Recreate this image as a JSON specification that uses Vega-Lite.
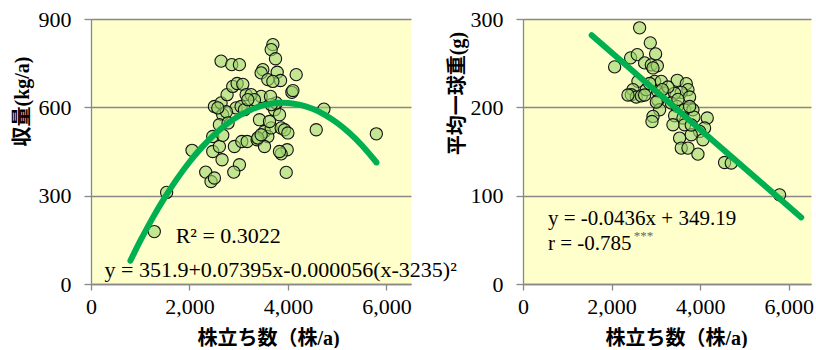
{
  "$schema": "https://vega.github.io/schema/vega-lite/v6.json",
  "autosize": {"type": "pad"},
  "padding": {"left": 12, "top": 8, "right": 0, "bottom": 0},
  "bounds": "flush",
  "spacing": 112,
  "background": "#ffffff",
  "datasets": {
    "yieldData": [
      {"density": 1286, "yield": 178}, {"density": 1536, "yield": 311}, {"density": 2052, "yield": 454},
      {"density": 2330, "yield": 380}, {"density": 2438, "yield": 348}, {"density": 2507, "yield": 360},
      {"density": 2473, "yield": 501}, {"density": 2473, "yield": 450}, {"density": 2608, "yield": 467},
      {"density": 2662, "yield": 422}, {"density": 2507, "yield": 603}, {"density": 2642, "yield": 615},
      {"density": 2676, "yield": 575}, {"density": 2608, "yield": 541}, {"density": 2676, "yield": 505},
      {"density": 2642, "yield": 757}, {"density": 2859, "yield": 745}, {"density": 3015, "yield": 745},
      {"density": 2764, "yield": 643}, {"density": 2879, "yield": 671}, {"density": 2968, "yield": 681},
      {"density": 3083, "yield": 678}, {"density": 3151, "yield": 643}, {"density": 2947, "yield": 598},
      {"density": 3049, "yield": 603}, {"density": 2913, "yield": 467}, {"density": 3015, "yield": 405},
      {"density": 2900, "yield": 380}, {"density": 3063, "yield": 484}, {"density": 3172, "yield": 484},
      {"density": 3374, "yield": 490}, {"density": 3422, "yield": 558}, {"density": 3456, "yield": 637},
      {"density": 3490, "yield": 728}, {"density": 3456, "yield": 717}, {"density": 3592, "yield": 694},
      {"density": 3694, "yield": 813}, {"density": 3660, "yield": 796}, {"density": 3748, "yield": 765},
      {"density": 3782, "yield": 719}, {"density": 3850, "yield": 691}, {"density": 3694, "yield": 688},
      {"density": 3524, "yield": 518}, {"density": 3592, "yield": 501}, {"density": 3524, "yield": 467},
      {"density": 3388, "yield": 496}, {"density": 3660, "yield": 530}, {"density": 3728, "yield": 592},
      {"density": 3829, "yield": 575}, {"density": 3762, "yield": 615}, {"density": 3863, "yield": 530},
      {"density": 3931, "yield": 524}, {"density": 3999, "yield": 513}, {"density": 3985, "yield": 456},
      {"density": 3863, "yield": 442}, {"density": 3965, "yield": 379}, {"density": 4080, "yield": 651},
      {"density": 4101, "yield": 657}, {"density": 4168, "yield": 711}, {"density": 3660, "yield": 609},
      {"density": 3646, "yield": 637}, {"density": 4575, "yield": 524}, {"density": 4731, "yield": 594},
      {"density": 5796, "yield": 510}, {"density": 3252, "yield": 643}, {"density": 3320, "yield": 626},
      {"density": 3117, "yield": 592}, {"density": 2750, "yield": 585}, {"density": 3185, "yield": 626},
      {"density": 2575, "yield": 598}, {"density": 2784, "yield": 547}, {"density": 3829, "yield": 450},
      {"density": 3626, "yield": 552}, {"density": 3456, "yield": 507}
    ],
    "yieldCurve": [
      {"density": 800, "yield": 79.0}, {"density": 1000, "yield": 146.1}, {"density": 1250, "yield": 223.7},
      {"density": 1500, "yield": 294.3}, {"density": 1750, "yield": 357.8}, {"density": 2000, "yield": 414.4},
      {"density": 2250, "yield": 464.0}, {"density": 2500, "yield": 506.5}, {"density": 2750, "yield": 542.1},
      {"density": 3000, "yield": 570.7}, {"density": 3250, "yield": 592.2}, {"density": 3500, "yield": 606.8},
      {"density": 3750, "yield": 614.4}, {"density": 4000, "yield": 614.9}, {"density": 4250, "yield": 608.5},
      {"density": 4500, "yield": 595.1}, {"density": 4750, "yield": 574.6}, {"density": 5000, "yield": 547.2},
      {"density": 5250, "yield": 512.8}, {"density": 5500, "yield": 471.3}, {"density": 5750, "yield": 422.9},
      {"density": 5800, "yield": 412.4}
    ],
    "yieldNotes": [
      {"density": 1720, "yield": 140, "label": "R² = 0.3022"},
      {"density": 275, "yield": 24, "label": "y = 351.9+0.07395x-0.000056(x-3235)²"}
    ],
    "weightData": [
      {"density": 2632, "weight": 290}, {"density": 2068, "weight": 245.8}, {"density": 2873, "weight": 273},
      {"density": 2993, "weight": 260.5}, {"density": 2429, "weight": 256}, {"density": 2579, "weight": 259.7},
      {"density": 2745, "weight": 250.3}, {"density": 2896, "weight": 248}, {"density": 3032, "weight": 247},
      {"density": 2934, "weight": 244.6}, {"density": 2594, "weight": 229.4}, {"density": 2482, "weight": 220},
      {"density": 2444, "weight": 214.3}, {"density": 2557, "weight": 211.7}, {"density": 2670, "weight": 213},
      {"density": 2783, "weight": 220}, {"density": 2971, "weight": 229.4}, {"density": 3121, "weight": 229.4},
      {"density": 3046, "weight": 218}, {"density": 3196, "weight": 216}, {"density": 3046, "weight": 207.9},
      {"density": 3083, "weight": 197.3}, {"density": 2934, "weight": 189.7}, {"density": 2911, "weight": 184},
      {"density": 3482, "weight": 230.6}, {"density": 3685, "weight": 226.8}, {"density": 3723, "weight": 220},
      {"density": 3572, "weight": 217}, {"density": 3760, "weight": 211.7}, {"density": 3422, "weight": 216},
      {"density": 3347, "weight": 204.9}, {"density": 3482, "weight": 201}, {"density": 3647, "weight": 197.3},
      {"density": 3835, "weight": 197.3}, {"density": 3422, "weight": 190.5}, {"density": 3610, "weight": 187.9},
      {"density": 3857, "weight": 189}, {"density": 4158, "weight": 187.9}, {"density": 4098, "weight": 176.6},
      {"density": 3986, "weight": 172.7}, {"density": 4061, "weight": 163.3}, {"density": 3798, "weight": 169},
      {"density": 3647, "weight": 180.3}, {"density": 3384, "weight": 180.3}, {"density": 3534, "weight": 165.2},
      {"density": 3572, "weight": 153.9}, {"density": 3723, "weight": 153.9}, {"density": 3948, "weight": 147},
      {"density": 4550, "weight": 137.6}, {"density": 4700, "weight": 137}, {"density": 5791, "weight": 100.9},
      {"density": 3760, "weight": 201}, {"density": 3271, "weight": 223}, {"density": 3497, "weight": 209},
      {"density": 2745, "weight": 214}, {"density": 2369, "weight": 214}, {"density": 3143, "weight": 220},
      {"density": 3798, "weight": 180}, {"density": 2858, "weight": 227}, {"density": 3008, "weight": 206}
    ],
    "weightLine": [
      {"density": 1550, "weight": 281.6},
      {"density": 6280, "weight": 75.4}
    ],
    "weightNotes": [
      {"density": 564, "weight": 67, "label": "y = -0.0436x + 349.19"},
      {"density": 564, "weight": 38.6, "label": "r = -0.785"}
    ],
    "weightStars": [
      {"density": 2500, "weight": 49.5, "label": "***"}
    ]
  },
  "config": {
    "view": {"fill": "#FFFFCC", "stroke": null},
    "axis": {
      "domainColor": "#888888",
      "domainWidth": 1.3,
      "tickColor": "#888888",
      "tickWidth": 1.3,
      "tickSize": 6,
      "gridColor": "#888888",
      "gridWidth": 1.3,
      "labelFont": "Liberation Serif",
      "labelFontSize": 22,
      "labelColor": "#000000",
      "labelFlush": false,
      "labelOverlap": false,
      "titleFont": "Liberation Serif, Noto Sans CJK JP",
      "titleFontSize": 20,
      "titleFontWeight": "bold",
      "titleColor": "#000000"
    },
    "axisX": {"grid": false, "labelPadding": 6, "titleBaseline": "alphabetic"},
    "axisY": {"grid": true, "labelPadding": 13, "tickSize": 7, "titleBaseline": "alphabetic", "titleAngle": -90}
  },
  "hconcat": [
    {
      "width": 320,
      "height": 265,
      "layer": [
        {
          "data": {"name": "yieldData"},
          "mark": {"type": "circle", "size": 150, "fill": "#9CD36A", "fillOpacity": 0.6, "stroke": "#111111", "strokeWidth": 1.1},
          "encoding": {
            "x": {"field": "density", "type": "quantitative", "scale": {"domain": [0, 6500], "nice": false},
                  "axis": {"title": "株立ち数（株/a)", "values": [0, 2000, 4000, 6000], "format": ",d", "titleX": 177, "titleY": 60}},
            "y": {"field": "yield", "type": "quantitative", "scale": {"domain": [0, 900], "nice": false},
                  "axis": {"title": "収量(kg/a)", "values": [0, 300, 600, 900], "format": "d", "titleX": -63, "titleY": 82}}
          }
        },
        {
          "data": {"name": "yieldCurve"},
          "mark": {"type": "line", "color": "#00B050", "strokeWidth": 6, "strokeCap": "round", "interpolate": "natural"},
          "encoding": {
            "x": {"field": "density", "type": "quantitative"},
            "y": {"field": "yield", "type": "quantitative"}
          }
        },
        {
          "data": {"name": "yieldNotes"},
          "mark": {"type": "text", "align": "left", "baseline": "alphabetic", "font": "Liberation Serif", "fontSize": 22, "color": "#000000"},
          "encoding": {
            "x": {"field": "density", "type": "quantitative"},
            "y": {"field": "yield", "type": "quantitative"},
            "text": {"field": "label"}
          }
        }
      ]
    },
    {
      "width": 288,
      "height": 265,
      "layer": [
        {
          "data": {"name": "weightData"},
          "mark": {"type": "circle", "size": 150, "fill": "#9CD36A", "fillOpacity": 0.6, "stroke": "#111111", "strokeWidth": 1.1},
          "encoding": {
            "x": {"field": "density", "type": "quantitative", "scale": {"domain": [0, 6500], "nice": false},
                  "axis": {"title": "株立ち数（株/a)", "values": [0, 2000, 4000, 6000], "format": ",d", "titleX": 153, "titleY": 60}},
            "y": {"field": "weight", "type": "quantitative", "scale": {"domain": [0, 300], "nice": false},
                  "axis": {"title": "平均一球重(g)", "values": [0, 100, 200, 300], "format": "d", "titleX": -60, "titleY": 74}}
          }
        },
        {
          "data": {"name": "weightLine"},
          "mark": {"type": "line", "color": "#00B050", "strokeWidth": 6, "strokeCap": "round"},
          "encoding": {
            "x": {"field": "density", "type": "quantitative"},
            "y": {"field": "weight", "type": "quantitative"}
          }
        },
        {
          "data": {"name": "weightNotes"},
          "mark": {"type": "text", "align": "left", "baseline": "alphabetic", "font": "Liberation Serif", "fontSize": 21, "color": "#000000"},
          "encoding": {
            "x": {"field": "density", "type": "quantitative"},
            "y": {"field": "weight", "type": "quantitative"},
            "text": {"field": "label"}
          }
        },
        {
          "data": {"name": "weightStars"},
          "mark": {"type": "text", "align": "left", "baseline": "alphabetic", "font": "Liberation Serif", "fontSize": 13, "color": "#666666"},
          "encoding": {
            "x": {"field": "density", "type": "quantitative"},
            "y": {"field": "weight", "type": "quantitative"},
            "text": {"field": "label"}
          }
        }
      ]
    }
  ]
}
